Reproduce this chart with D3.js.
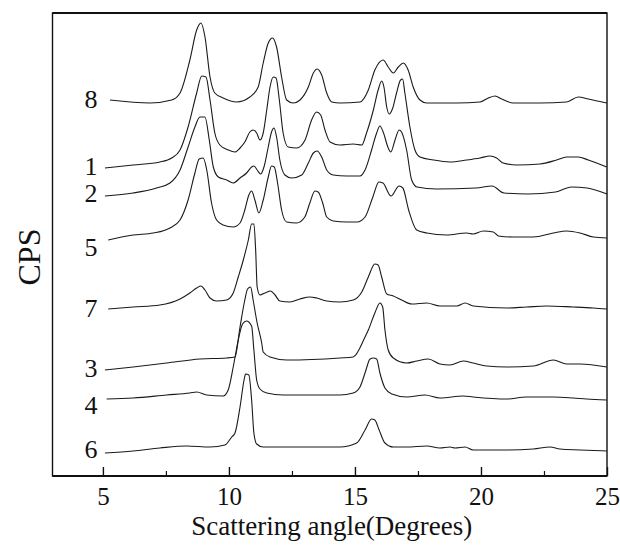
<!DOCTYPE html>
<html>
<head>
<meta charset="utf-8">
<script src="https://cdn.jsdelivr.net/npm/d3@7"></script>
<style>
  body { margin: 0; background: #fff; }
  svg { display: block; }
  text { font-family: "Liberation Serif", "DejaVu Serif", serif; fill: #111; }
</style>
</head>
<body>
<svg id="chart" width="620" height="545"></svg>
<script>
// x: scattering angle (deg), y: CPS (arbitrary, offset stacked)
const angleTicks = [5, 10, 15, 20, 25];
const minorTicks = [7.5, 12.5, 17.5, 22.5];

const sample8 = [[5.28,376],[6.87,373],[7.73,376],[8.06,383],[8.45,416],[8.72,446],[8.89,453],[9.05,439],[9.25,399],[9.44,383],[9.77,378],[10.31,374],[10.83,379],[11.16,389],[11.36,413],[11.56,433],[11.73,438],[11.89,429],[12.09,399],[12.29,376],[12.55,373],[12.82,376],[13.15,389],[13.35,403],[13.50,407],[13.68,401],[13.88,383],[14.08,374],[14.40,373],[15.20,374],[15.53,386],[15.79,406],[16.12,416],[16.32,409],[16.52,403],[16.72,409],[16.92,413],[17.11,406],[17.31,389],[17.58,376],[17.85,373],[19.04,373],[19.96,374],[20.29,378],[20.56,380],[20.82,377],[21.28,373],[22.34,373],[23.40,374],[23.86,379],[24.26,377],[24.99,373]];
const sample1 = [[5.08,308],[6.20,311],[7.26,314],[7.73,318],[8.06,326],[8.38,349],[8.72,383],[8.92,400],[9.09,399],[9.25,376],[9.44,343],[9.64,331],[9.97,326],[10.24,324],[10.44,328],[10.63,334],[10.83,344],[10.96,346],[11.10,343],[11.23,336],[11.36,343],[11.50,366],[11.63,389],[11.76,399],[11.87,398],[12.00,376],[12.15,343],[12.35,329],[12.69,328],[13.02,336],[13.28,356],[13.48,364],[13.64,361],[13.81,346],[14.01,334],[14.40,331],[14.93,332],[15.27,331],[15.46,343],[15.73,366],[15.92,386],[16.06,395],[16.15,389],[16.26,369],[16.36,362],[16.50,368],[16.65,383],[16.81,396],[16.89,397],[16.98,383],[17.18,349],[17.38,326],[17.58,319],[18.11,316],[18.77,314],[19.43,316],[19.96,318],[20.36,320],[20.62,318],[20.88,313],[21.42,311],[22.34,312],[23.00,316],[23.40,319],[23.86,319],[24.26,316],[24.99,309]];
const sample2 = [[5.08,280],[6.20,283],[7.13,288],[7.66,293],[8.06,306],[8.38,329],[8.65,349],[8.85,359],[9.05,359],[9.22,336],[9.38,309],[9.58,299],[9.91,296],[10.17,293],[10.44,298],[10.70,303],[10.90,309],[10.99,310],[11.12,306],[11.26,302],[11.39,309],[11.56,329],[11.69,344],[11.79,348],[11.89,339],[12.02,316],[12.22,301],[12.49,298],[12.89,301],[13.15,313],[13.35,323],[13.50,325],[13.68,319],[13.88,306],[14.14,301],[14.67,300],[15.20,300],[15.40,306],[15.66,326],[15.86,343],[15.99,350],[16.12,344],[16.32,328],[16.42,324],[16.59,336],[16.75,346],[16.85,344],[17.05,326],[17.25,296],[17.46,289],[18.23,287],[19.80,288],[20.44,290],[20.91,283],[21.87,282],[22.96,284],[23.59,289],[24.21,288],[25.0,282]];
const sample5 = [[5.21,236],[6.20,241],[7.00,243],[7.66,248],[8.06,256],[8.38,276],[8.65,303],[8.82,317],[8.98,318],[9.12,306],[9.31,273],[9.51,256],[9.77,251],[10.17,249],[10.44,253],[10.63,266],[10.79,281],[10.90,285],[11.03,276],[11.19,263],[11.36,276],[11.56,299],[11.69,310],[11.80,309],[11.93,293],[12.09,266],[12.29,254],[12.69,253],[13.01,259],[13.21,273],[13.41,285],[13.54,284],[13.72,273],[13.88,259],[14.14,255],[14.67,254],[15.08,254],[15.40,259],[15.71,279],[15.95,294],[16.11,293],[16.43,280],[16.75,290],[16.90,288],[17.13,266],[17.45,246],[17.85,243],[18.63,241],[19.43,243],[19.69,242],[20.09,245],[20.49,244],[20.69,240],[21.28,239],[22.08,239],[22.87,243],[23.40,245],[23.93,243],[24.46,239],[24.99,238]];
const sample7 = [[5.21,167],[6.20,169],[7.26,171],[8.06,177],[8.45,183],[8.72,188],[8.89,190],[9.05,186],[9.25,178],[9.51,175],[9.91,176],[10.17,183],[10.37,199],[10.57,216],[10.77,236],[10.90,252],[10.99,252],[11.06,226],[11.12,189],[11.23,181],[11.43,183],[11.65,185],[11.83,181],[12.02,175],[12.42,174],[12.82,177],[13.21,179],[13.48,178],[13.88,175],[14.40,174],[14.93,176],[15.27,184],[15.53,199],[15.79,212],[15.92,211],[16.06,199],[16.26,182],[16.52,180],[16.85,176],[17.25,172],[17.85,173],[18.37,170],[19.04,170],[19.37,173],[19.69,170],[21.02,168],[21.81,169],[22.60,170],[23.66,169],[24.46,168],[24.99,167]];
const sample3 = [[5.08,106],[6.20,109],[7.53,113],[8.85,117],[9.91,118],[10.24,119],[10.44,149],[10.63,176],[10.74,187],[10.86,189],[10.96,176],[11.12,153],[11.30,133],[11.36,124],[11.63,119],[12.29,116],[14.40,118],[14.93,119],[15.40,139],[15.53,146],[15.79,163],[15.99,173],[16.10,169],[16.19,146],[16.32,126],[16.52,118],[17.05,113],[17.45,115],[17.91,117],[18.37,112],[18.77,111],[19.30,115],[19.69,113],[20.23,110],[21.02,109],[22.08,110],[22.87,116],[23.40,112],[23.93,112],[24.99,109]];
const sample4 = [[5.15,77],[6.20,78],[7.53,81],[8.45,83],[8.72,84],[9.12,81],[9.77,80],[9.97,86],[10.17,109],[10.37,136],[10.54,152],[10.70,155],[10.90,150],[10.99,126],[11.10,96],[11.23,87],[11.50,83],[12.15,81],[14.40,81],[14.93,83],[15.20,89],[15.40,103],[15.60,117],[15.73,118],[15.86,117],[15.99,103],[16.19,88],[16.46,82],[17.05,79],[17.78,81],[18.37,78],[19.30,80],[19.69,79],[21.02,77],[21.81,79],[22.87,79],[23.66,78],[24.19,77],[24.99,76]];
const sample6 = [[5.08,23],[6.20,25],[7.26,28],[8.32,30],[9.25,29],[9.84,31],[10.11,39],[10.24,43],[10.44,69],[10.60,96],[10.66,102],[10.79,101],[10.90,76],[10.99,43],[11.10,32],[11.36,29],[12.82,29],[14.40,29],[15.07,33],[15.40,46],[15.66,57],[15.79,56],[15.96,46],[16.19,33],[16.52,29],[17.05,29],[17.85,30],[18.37,28],[18.77,29],[18.97,28],[19.37,29],[19.69,26],[21.02,26],[22.08,27],[22.74,29],[23.13,27],[23.93,26],[24.99,25]];

const sampleNames = ["8", "1", "2", "5", "7", "3", "4", "6"];
const sampleData = [sample8, sample1, sample2, sample5, sample7, sample3, sample4, sample6];
const labelCps = [377, 310, 283, 229, 168, 108, 71, 27];

const svg = d3.select("#chart");
const frame = {left: 52.5, right: 607, top: 13, bottom: 476};

const xScale = d3.scaleLinear().domain([3, 25]).range([frame.left, frame.right]);
const yScale = d3.scaleLinear().domain([0, 463]).range([frame.bottom, frame.top]);

// 프레임
svg.append("rect")
    .attr("x", frame.left)
    .attr("y", frame.top)
    .attr("width", frame.right - frame.left)
    .attr("height", frame.bottom - frame.top)
    .style("fill", "none")
    .style("stroke", "#111")
    .style("stroke-width", 1.4);
svg.append("line")
    .attr("x1", frame.left).attr("x2", frame.right)
    .attr("y1", frame.top).attr("y2", frame.top)
    .style("stroke", "#111")
    .style("stroke-width", 1.8);

// 곡선
const line = d3.line()
    .x(d => xScale(d[0]))
    .y(d => yScale(d[1]))
    .curve(d3.curveMonotoneX);

svg.append("g").selectAll("path.trace")
    .data(sampleData)
    .join("path")
    .attr("class", "trace")
    .attr("d", line)
    .style("fill", "none")
    .style("stroke", "#1a1a1a")
    .style("stroke-width", 1.1);

// 시료 번호
svg.append("g").selectAll("text.name")
    .data(sampleNames)
    .join("text")
    .attr("class", "name")
    .attr("x", 91)
    .attr("y", (d, i) => yScale(labelCps[i]) + 9)
    .attr("text-anchor", "middle")
    .style("font-size", "26px")
    .text(d => d);

// x축
const xAxis = svg.append("g")
    .attr("transform", `translate(0, ${frame.bottom})`)
    .call(d3.axisBottom(xScale).tickValues(angleTicks).tickSizeInner(-9).tickSizeOuter(0).tickPadding(11));
xAxis.select(".domain").remove();
xAxis.selectAll("line").style("stroke", "#111").style("stroke-width", 1.4);
xAxis.selectAll("text")
    .style("font-family", "'Liberation Serif', serif")
    .style("font-size", "25px")
    .style("fill", "#111");

const minorAxis = svg.append("g")
    .attr("transform", `translate(0, ${frame.bottom})`)
    .call(d3.axisBottom(xScale).tickValues(minorTicks).tickSizeInner(-5).tickSizeOuter(0).tickFormat(""));
minorAxis.select(".domain").remove();
minorAxis.selectAll("line").style("stroke", "#111").style("stroke-width", 1.2);

// 바닥선 (굵게)
svg.append("line")
    .attr("x1", frame.left).attr("x2", frame.right)
    .attr("y1", frame.bottom).attr("y2", frame.bottom)
    .style("stroke", "#111")
    .style("stroke-width", 2.2);

// 축 제목
svg.append("text")
    .attr("x", (frame.left + frame.right) / 2 + 2)
    .attr("y", 535)
    .attr("text-anchor", "middle")
    .style("font-size", "27px")
    .text("Scattering angle(Degrees)");

svg.append("text")
    .attr("transform", "translate(29, 257) rotate(-90)")
    .attr("y", 11)
    .attr("text-anchor", "middle")
    .style("font-size", "32px")
    .text("CPS");
</script>
</body>
</html>
